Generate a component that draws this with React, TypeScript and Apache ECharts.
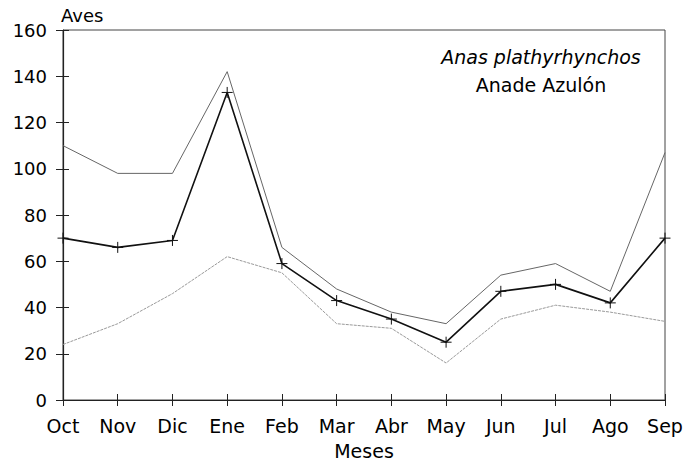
import React, { useEffect, useRef } from "react";
import * as echarts from "echarts";

const months = ["Oct", "Nov", "Dic", "Ene", "Feb", "Mar", "Abr", "May", "Jun", "Jul", "Ago", "Sep"];
const meanValues = [70, 66, 69, 133, 59, 43, 35, 25, 47, 50, 42, 70];
const upperValues = [110, 98, 98, 142, 66, 48, 38, 33, 54, 59, 47, 107];
const lowerValues = [24, 33, 46, 62, 55, 33, 31, 16, 35, 41, 38, 34];
const yTicks = { min: 0, max: 160, interval: 20 };

const FONT = "'DejaVu Sans', Verdana, sans-serif";

export default function App() {
  const ref = useRef<HTMLDivElement>(null);
  useEffect(() => {
    if (!ref.current) return;
    const chart = echarts.init(ref.current, undefined, { renderer: "svg" });
    const yLabelStyle = { color: "#000", fontSize: 18, fontFamily: FONT };
    const xLabelStyle = { color: "#000", fontSize: 19, fontFamily: FONT };
    chart.setOption({
      animation: false,
      backgroundColor: "#fff",
      grid: { left: 63, right: 23, top: 30, bottom: 61, show: true, borderColor: "#444", borderWidth: 1 },
      xAxis: [
        {
          type: "category",
          data: months,
          boundaryGap: false,
          axisLine: { lineStyle: { color: "#222", width: 1.2 } },
          axisTick: { show: true, length: 6, lineStyle: { color: "#222" } },
          axisLabel: { ...xLabelStyle, margin: 16 },
          name: "Meses",
          nameLocation: "middle",
          nameGap: 41,
          nameTextStyle: { ...xLabelStyle },
          splitLine: { show: false },
        },
        {
          type: "category",
          data: months,
          boundaryGap: false,
          position: "bottom",
          axisLine: { show: false },
          axisTick: { show: true, inside: true, length: 6, lineStyle: { color: "#222" } },
          axisLabel: { show: false },
          splitLine: { show: false },
        },
      ],
      yAxis: [
        {
          type: "value",
          min: yTicks.min,
          max: yTicks.max,
          interval: yTicks.interval,
          axisLine: { show: true, lineStyle: { color: "#222", width: 1.2 } },
          axisTick: { show: true, length: 7, lineStyle: { color: "#222" } },
          axisLabel: { ...yLabelStyle, margin: 16 },
          splitLine: { show: false },
        },
        {
          type: "value",
          position: "left",
          min: yTicks.min,
          max: yTicks.max,
          interval: yTicks.interval,
          axisLine: { show: false },
          axisTick: { show: true, inside: true, length: 6, lineStyle: { color: "#222" } },
          axisLabel: { show: false },
          splitLine: { show: false },
        },
      ],
      graphic: [
        {
          type: "text",
          x: 61,
          y: 15,
          style: { text: "Aves", fontSize: 18, fontFamily: FONT, fill: "#000", verticalAlign: "middle" },
        },
        {
          type: "text",
          x: 541,
          y: 57,
          style: {
            text: "Anas plathyrhynchos",
            fontSize: 19,
            fontStyle: "italic",
            fontFamily: FONT,
            fill: "#000",
            align: "center",
            verticalAlign: "middle",
          },
        },
        {
          type: "text",
          x: 541,
          y: 85,
          style: { text: "Anade Azulón", fontSize: 19, fontFamily: FONT, fill: "#000", align: "center", verticalAlign: "middle" },
        },
      ],
      series: [
        {
          name: "Máximo",
          type: "line",
          data: upperValues,
          symbol: "none",
          lineStyle: { color: "#666", width: 1 },
        },
        {
          name: "Mínimo",
          type: "line",
          data: lowerValues,
          symbol: "none",
          lineStyle: { color: "#999", width: 1, type: [3, 1] },
        },
        {
          name: "Media",
          type: "line",
          data: meanValues,
          symbol: "path://M0,5L10,5M5,0L5,10",
          symbolSize: 11,
          itemStyle: { color: "none", borderColor: "#111", borderWidth: 1 },
          lineStyle: { color: "#111", width: 1.6 },
        },
      ],
    });
    return () => chart.dispose();
  }, []);
  return <div ref={ref} style={{ position: "absolute", left: 0, top: 0, width: 688, height: 465 }} />;
}
